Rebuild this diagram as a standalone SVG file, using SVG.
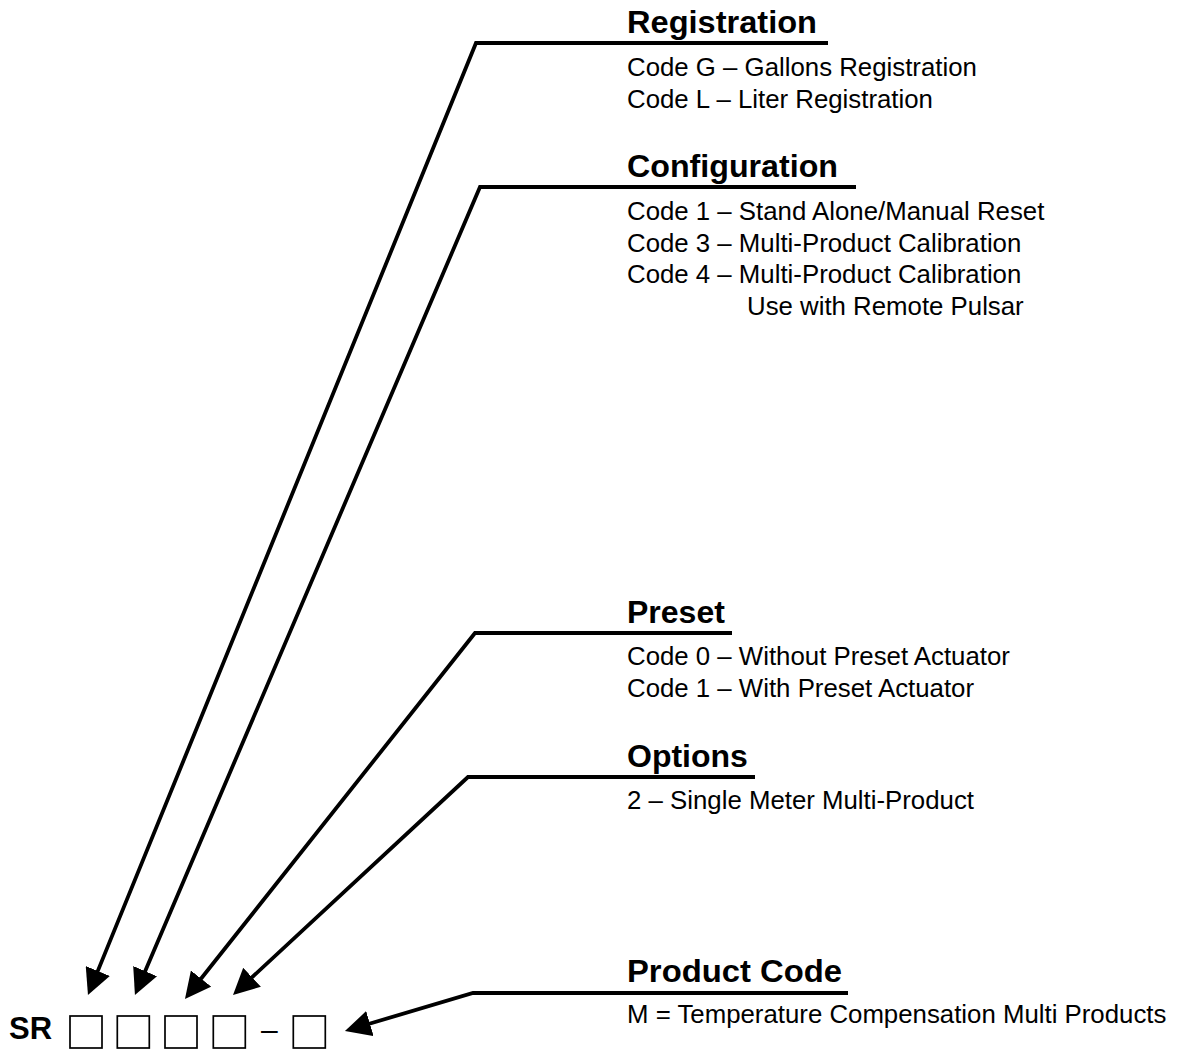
<svg xmlns="http://www.w3.org/2000/svg" width="1183" height="1049" viewBox="0 0 1183 1049">
<defs>
<style>
.h{font-family:"Liberation Sans",Arial,sans-serif;font-weight:bold;font-size:32px;fill:#000}
.d{font-family:"Liberation Sans",Arial,sans-serif;font-size:25.8px;fill:#000}
.ln{fill:none;stroke:#000;stroke-width:3.8;stroke-linejoin:miter}
.box{fill:#fff;stroke:#000;stroke-width:1.7}
</style>
<marker id="ah" markerUnits="userSpaceOnUse" markerWidth="26" markerHeight="26" viewBox="0 0 26 26" refX="5" refY="13" orient="auto">
<path d="M0,0 L26,13 L0,26 z" fill="#000"/>
</marker>
</defs>
<rect width="1183" height="1049" fill="#fff"/>

<g id="connectors">
<polyline class="ln" points="828,43 476,43 95.9,975.6" marker-end="url(#ah)"/>
<polyline class="ln" points="856,187 480,187 143.2,975.7" marker-end="url(#ah)"/>
<polyline class="ln" points="732,633 475,633 198.0,982.5" marker-end="url(#ah)"/>
<polyline class="ln" points="755,777 468,777 248.4,980.7" marker-end="url(#ah)"/>
<polyline class="ln" points="848,993 473,993 365.1,1025.0" marker-end="url(#ah)"/>
</g>

<g id="registration">
<text class="h" x="627" y="32.5" textLength="190" lengthAdjust="spacingAndGlyphs">Registration</text>
<text class="d" x="627" y="76">Code G – Gallons Registration</text>
<text class="d" x="627" y="108">Code L – Liter Registration</text>
</g>

<g id="configuration">
<text class="h" x="627" y="177" textLength="211" lengthAdjust="spacingAndGlyphs">Configuration</text>
<text class="d" x="627" y="220">Code 1 – Stand Alone/Manual Reset</text>
<text class="d" x="627" y="251.5">Code 3 – Multi-Product Calibration</text>
<text class="d" x="627" y="283">Code 4 – Multi-Product Calibration</text>
<text class="d" x="747" y="314.5">Use with Remote Pulsar</text>
</g>

<g id="preset">
<text class="h" x="627" y="623">Preset</text>
<text class="d" x="627" y="665">Code 0 – Without Preset Actuator</text>
<text class="d" x="627" y="697">Code 1 – With Preset Actuator</text>
</g>

<g id="options">
<text class="h" x="627" y="767">Options</text>
<text class="d" x="627" y="808.5">2 – Single Meter Multi-Product</text>
</g>

<g id="product-code">
<text class="h" x="627" y="982" textLength="215" lengthAdjust="spacingAndGlyphs">Product Code</text>
<text class="d" x="627" y="1023">M = Temperature Compensation Multi Products</text>
</g>

<g id="model-code">
<text x="9" y="1039" style="font-family:'Liberation Sans',Arial,sans-serif;font-weight:bold;font-size:31px">SR</text>
<rect class="box" x="70" y="1016" width="32" height="32"/>
<rect class="box" x="117.3" y="1016" width="32" height="32"/>
<rect class="box" x="165" y="1016" width="32" height="32"/>
<rect class="box" x="213.3" y="1016" width="32" height="32"/>
<text x="261" y="1040" style="font-family:'Liberation Sans',Arial,sans-serif;font-size:30px">–</text>
<rect class="box" x="293.3" y="1016" width="32" height="32"/>
</g>
</svg>
